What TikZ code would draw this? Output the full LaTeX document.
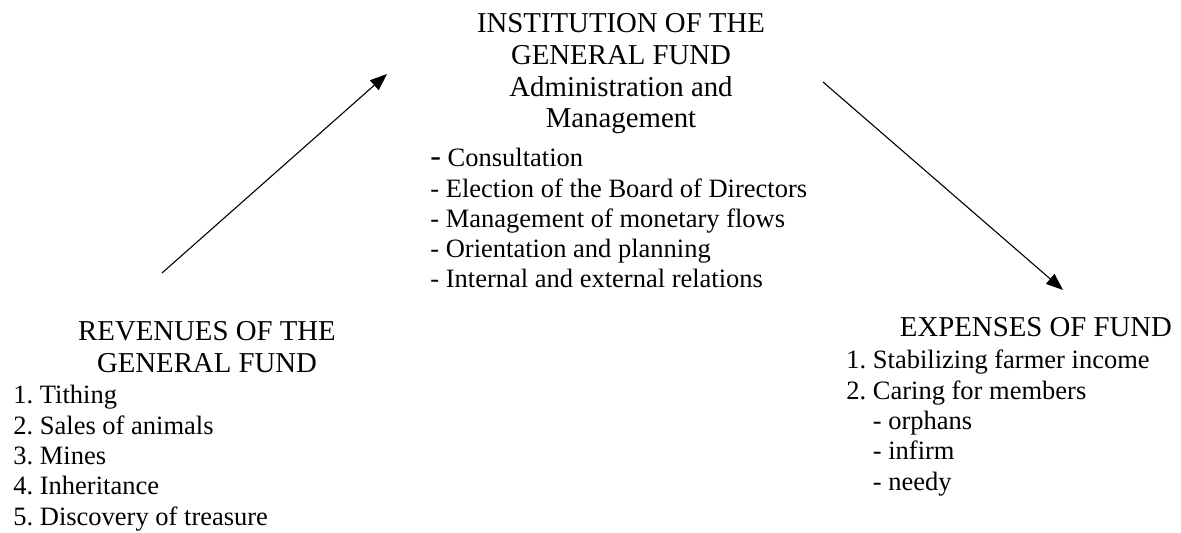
\documentclass[tikz,border=0pt]{standalone}
\usepackage{fontspec}
\setmainfont{Liberation Serif}
\usetikzlibrary{arrows.meta}
\frenchspacing

\tikzset{
  head/.style={align=center, inner sep=0pt, font=\fontsize{14.4}{15.9}\selectfont},
  items/.style={align=left, inner sep=0pt, font=\fontsize{13.25}{15.15}\selectfont},
  flow/.style={-{Triangle[length=8.5pt,width=6.5pt]}, line width=0.55pt}
}

\begin{document}
\begin{tikzpicture}[x=0.5pt, y=-0.5pt]
\useasboundingbox (0,0) rectangle (1181,533);

% anchors sit on the baseline of the last line
\node[head, anchor=base] (inst) at (621,128) {INSTITUTION OF THE\\GENERAL FUND\\Administration and\\Management};
\node[items, anchor=base west] (tasks) at (430,288) {{\fontsize{16}{15}\selectfont -} Consultation\\- Election of the Board of Directors\\- Management of monetary flows\\- Orientation and planning\\- Internal and external relations};

\node[head, anchor=base] (rev) at (207,372) {REVENUES OF THE\\GENERAL FUND};
\node[items, anchor=base west] (revlist) at (13,525) {1. Tithing\\2. Sales of animals\\3. Mines\\4. Inheritance\\5. Discovery of treasure};

\node[head, anchor=base] (exp) at (1036,337) {EXPENSES OF FUND};
\node[items, anchor=base west] (explist) at (846,490) {1. Stabilizing farmer income\\2. Caring for members\\\phantom{2. }- orphans\\\phantom{2. }- infirm\\\phantom{2. }- needy};

\coordinate (revout) at (162,273);
\coordinate (instin) at (387,74);
\coordinate (instout) at (823,82);
\coordinate (expin) at (1063,290);

\draw[flow] (revout) -- (instin);
\draw[flow] (instout) -- (expin);
\end{tikzpicture}
\end{document}
